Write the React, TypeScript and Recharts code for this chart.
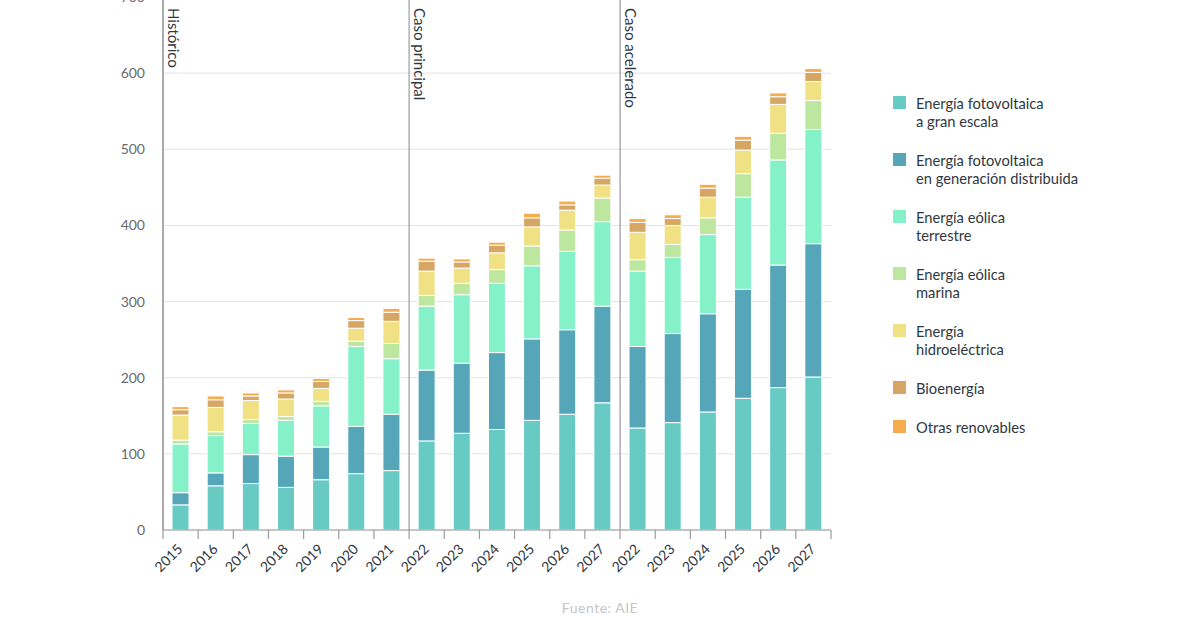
import { BarChart, Bar, XAxis, YAxis, CartesianGrid, ReferenceArea } from "recharts";

// capacidad añadida por tecnología (GW)
const YEARS = [
  "2015", "2016", "2017", "2018", "2019", "2020", "2021",
  "2022", "2023", "2024", "2025", "2026", "2027",
  "2022", "2023", "2024", "2025", "2026", "2027",
];

const UTILITY_PV = [33, 58, 61, 56, 66, 74, 78, 117, 127, 132, 144, 152, 167, 134, 141, 155, 173, 187, 201];
const DISTRIBUTED_PV = [16, 17, 38, 41, 43, 62, 74, 93, 92, 101, 107, 111, 127, 107, 117, 129, 143, 161, 175];
const ONSHORE_WIND = [64, 49, 41, 47, 54, 105, 73, 84, 90, 91, 96, 103, 111, 99, 100, 104, 121, 138, 150];
const OFFSHORE_WIND = [5, 5, 5, 5, 6, 7, 20, 14, 15, 18, 26, 28, 31, 15, 17, 22, 31, 35, 38];
const HYDRO = [33, 32, 25, 23, 17, 17, 29, 32, 20, 22, 25, 26, 17, 36, 25, 27, 31, 38, 25];
const BIOENERGY = [7, 10, 6, 8, 9, 10, 12, 13, 8, 10, 12, 7, 9, 13, 9, 12, 13, 10, 12];
const OTHER = [4, 5, 4, 4, 4, 4, 5, 4, 4, 4, 6, 5, 4, 5, 5, 5, 5, 5, 5];

const Y_TICKS = [0, 100, 200, 300, 400, 500, 600, 700];

// primera columna de cada bloque y su título
const SECTIONS = [
  { at: 0, label: "Histórico" },
  { at: 7, label: "Caso principal" },
  { at: 13, label: "Caso acelerado" },
];

const SERIES = [
  { key: "utility", name: "Energía fotovoltaica\na gran escala", values: UTILITY_PV, color: "#67CAC3" },
  { key: "distributed", name: "Energía fotovoltaica\nen generación distribuida", values: DISTRIBUTED_PV, color: "#56A6B9" },
  { key: "onshore", name: "Energía eólica\nterrestre", values: ONSHORE_WIND, color: "#85F1C9" },
  { key: "offshore", name: "Energía eólica\nmarina", values: OFFSHORE_WIND, color: "#BDE79F" },
  { key: "hydro", name: "Energía\nhidroeléctrica", values: HYDRO, color: "#EFE184" },
  { key: "bio", name: "Bioenergía", values: BIOENERGY, color: "#D5A664" },
  { key: "other", name: "Otras renovables", values: OTHER, color: "#F6AB4C" },
];

// the years repeat across scenarios, so each column is keyed by its position
const data = YEARS.map((_, i) => {
  const row: Record<string, number> = { slot: i };
  SERIES.forEach((s) => {
    row[s.key] = s.values[i];
  });
  return row;
});

const FONT = "Lato, 'Open Sans', sans-serif";
const AXIS = "#9a9a9a";
const TEXT = "#2f3742";

const CHART_W = 880;
const MARGIN = { top: 17, right: 49, bottom: 0, left: 103 };
const Y_AXIS_W = 60;
const BAND = (CHART_W - MARGIN.left - MARGIN.right - Y_AXIS_W) / YEARS.length;

function YearTick(props: any) {
  const { x, y, payload, index } = props;
  const ax = x + 3;
  const ay = y + 20;
  const left = x - BAND / 2;
  const right = x + BAND / 2;
  return (
    <g>
      <line x1={left} x2={left} y1={y} y2={y + 9} stroke={AXIS} strokeWidth={1.2} />
      {index === YEARS.length - 1 && (
        <line x1={right} x2={right} y1={y} y2={y + 9} stroke={AXIS} strokeWidth={1.2} />
      )}
      <text
        x={ax}
        y={ay}
        transform={`rotate(-45, ${ax}, ${ay})`}
        textAnchor="end"
        fontSize={14}
        fontFamily={FONT}
        fill={TEXT}
      >
        {YEARS[payload.value]}
      </text>
    </g>
  );
}

// divider on the left edge of the block plus its vertical title
function sectionShape(text: string) {
  return (props: any) => {
    const { x, y, height } = props;
    const tx = x + 5;
    const ty = y + 11;
    return (
      <g>
        <line x1={x} x2={x} y1={y} y2={y + height} stroke={AXIS} strokeWidth={1.2} />
        <text
          transform={`translate(${tx}, ${ty}) rotate(90)`}
          textAnchor="start"
          fontSize={15}
          fontFamily={FONT}
          fill={TEXT}
        >
          {text}
        </text>
      </g>
    );
  };
}

export default function App() {
  return (
    <div
      style={{
        position: "absolute",
        left: 0,
        top: 0,
        width: 1200,
        height: 630,
        overflow: "hidden",
        background: "#fff",
        fontFamily: FONT,
      }}
    >
      <div style={{ position: "absolute", left: 0, top: -20 }}>
        <BarChart width={CHART_W} height={610} data={data} margin={MARGIN} barSize={17}>
          <CartesianGrid vertical={false} stroke="#e3e3e3" />
          <XAxis
            dataKey="slot"
            interval={0}
            height={60}
            tickLine={false}
            tickSize={0}
            tickMargin={0}
            axisLine={{ stroke: AXIS, strokeWidth: 1.2 }}
            tick={YearTick}
          />
          <YAxis
            domain={[0, 700]}
            ticks={Y_TICKS}
            allowDataOverflow
            width={Y_AXIS_W}
            tickLine={false}
            tickSize={0}
            tickMargin={18}
            axisLine={{ stroke: AXIS, strokeWidth: 1.2 }}
            tick={{ fontSize: 14, fill: "#6a6a6a", fontFamily: FONT }}
          />
          {SERIES.map((s) => (
            <Bar
              key={s.key}
              dataKey={s.key}
              stackId="total"
              fill={s.color}
              stroke="#ffffff"
              strokeWidth={1}
              isAnimationActive={false}
            />
          ))}
          {SECTIONS.map((s) => (
            <ReferenceArea
              key={s.label}
              x1={s.at}
              x2={s.at}
              fill="none"
              shape={sectionShape(s.label)}
            />
          ))}
        </BarChart>
      </div>

      <div
        style={{
          position: "absolute",
          left: 893,
          top: 94,
          display: "flex",
          flexDirection: "column",
          gap: 21,
          fontSize: 14.7,
          lineHeight: "18px",
          color: TEXT,
        }}
      >
        {SERIES.map((s) => (
          <div key={s.key} style={{ display: "flex", alignItems: "flex-start" }}>
            <div
              style={{
                width: 13,
                height: 13,
                marginTop: 2,
                marginRight: 10,
                background: s.color,
                flex: "none",
              }}
            />
            <div style={{ whiteSpace: "pre-line" }}>{s.name}</div>
          </div>
        ))}
      </div>

      <div
        style={{
          position: "absolute",
          left: 0,
          width: 1200,
          top: 599,
          textAlign: "center",
          fontSize: 14,
          letterSpacing: 0.5,
          color: "#c4c4c4",
        }}
      >
        Fuente: AIE
      </div>
    </div>
  );
}
